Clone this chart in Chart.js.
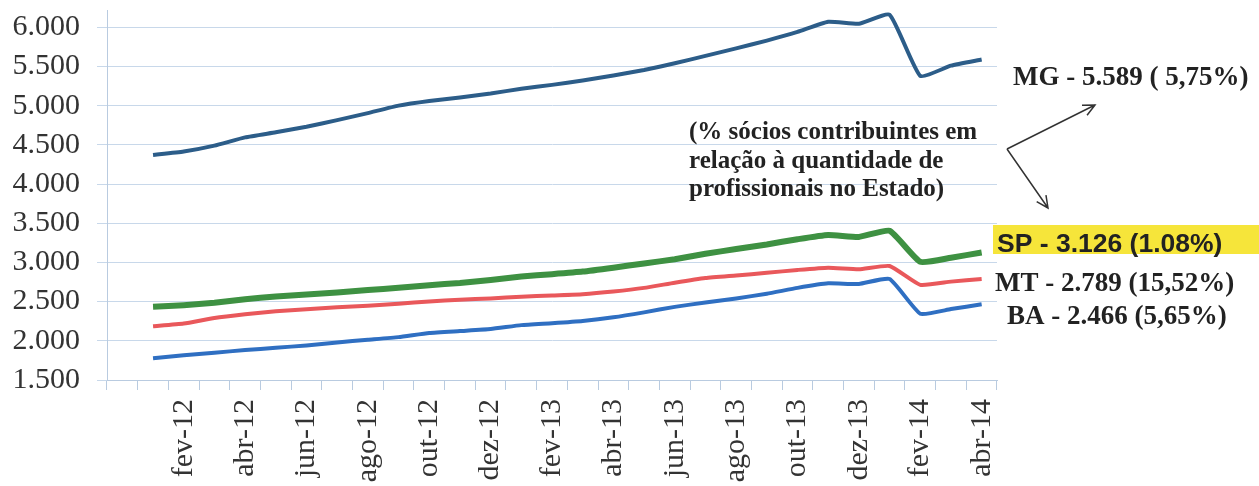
<!DOCTYPE html>
<html>
<head>
<meta charset="utf-8">
<script src="https://cdn.jsdelivr.net/npm/chart.js@4"></script>
<style>
  html, body { margin: 0; padding: 0; background: #fff; overflow: hidden; }
  canvas { display: block; }
</style>
</head>
<body>
<canvas id="chart" width="1259" height="486"></canvas>
<script>
// categories (first slot is an empty month before the series start)
const months = ["", "jan-12", "fev-12", "mar-12", "abr-12", "mai-12", "jun-12", "jul-12", "ago-12", "set-12",
  "out-12", "nov-12", "dez-12", "jan-13", "fev-13", "mar-13", "abr-13", "mai-13", "jun-13", "jul-13",
  "ago-13", "set-13", "out-13", "nov-13", "dez-13", "jan-14", "fev-14", "mar-14", "abr-14"];

const mg = [null, 4370, 4415, 4490, 4595, 4660, 4730, 4815, 4905, 5000, 5060, 5105, 5155, 5215, 5265,
  5320, 5385, 5455, 5540, 5635, 5730, 5830, 5940, 6070, 6045, 6160, 5380, 5510, 5589];
const sp = [null, 2435, 2455, 2485, 2530, 2565, 2590, 2615, 2648, 2676, 2710, 2737, 2775, 2820, 2850,
  2883, 2933, 2987, 3041, 3110, 3171, 3229, 3296, 3350, 3325, 3404, 3008, 3060, 3126];
const mt = [null, 2186, 2220, 2291, 2338, 2376, 2401, 2427, 2448, 2473, 2502, 2525, 2541, 2562, 2579,
  2595, 2629, 2675, 2741, 2800, 2833, 2867, 2904, 2933, 2913, 2954, 2713, 2755, 2789];
const ba = [null, 1777, 1815, 1848, 1882, 1911, 1941, 1979, 2013, 2047, 2100, 2125, 2150, 2200, 2225,
  2254, 2300, 2363, 2433, 2489, 2541, 2600, 2675, 2733, 2725, 2788, 2346, 2405, 2466];

const yTicks = [1500, 2000, 2500, 3000, 3500, 4000, 4500, 5000, 5500, 6000];

const noteLines = ["(% sócios contribuintes em", "relação à quantidade de", "profissionais no Estado)"];

function fmt(v) {
  return String(v).replace(/\B(?=(\d{3})+(?!\d))/g, ".");
}

// text and arrows on the right of the plot
const annotations = {
  id: "annotations",
  afterDraw(chart) {
    const ctx = chart.ctx;
    ctx.save();
    ctx.fillStyle = "#222";
    ctx.textAlign = "left";
    ctx.textBaseline = "alphabetic";

    ctx.font = "bold 27px 'Liberation Serif'";
    ctx.fillText("MG - 5.589 ( 5,75%)", 1013, 85);

    ctx.font = "bold 25px 'Liberation Serif'";
    noteLines.forEach((t, i) => ctx.fillText(t, 689, 139 + i * 28.5));

    // yellow highlight for SP
    ctx.fillStyle = "#f6e53a";
    ctx.fillRect(993, 225, 266, 29);
    ctx.fillStyle = "#222";
    ctx.font = "bold 26.5px 'Liberation Sans'";
    ctx.fillText("SP - 3.126 (1.08%)", 997, 252);

    ctx.font = "bold 27px 'Liberation Serif'";
    ctx.fillText("MT - 2.789 (15,52%)", 995, 291);
    ctx.fillText("BA - 2.466 (5,65%)", 1007, 324);

    // arrows
    ctx.strokeStyle = "#333";
    ctx.lineWidth = 1.5;
    function arrow(x0, y0, x1, y1) {
      ctx.beginPath();
      ctx.moveTo(x0, y0);
      ctx.lineTo(x1, y1);
      const a = Math.atan2(y1 - y0, x1 - x0);
      const h = 13;
      ctx.moveTo(x1 - h * Math.cos(a - 0.45), y1 - h * Math.sin(a - 0.45));
      ctx.lineTo(x1, y1);
      ctx.lineTo(x1 - h * Math.cos(a + 0.45), y1 - h * Math.sin(a + 0.45));
      ctx.stroke();
    }
    arrow(1007, 149, 1095, 105);
    arrow(1007, 149, 1048, 208);
    ctx.restore();
  }
};

function series(label, data, color, width) {
  return {
    label: label,
    data: data,
    borderColor: color,
    backgroundColor: color,
    borderWidth: width,
    pointRadius: 0,
    tension: 0.15,
    spanGaps: false
  };
}

new Chart(document.getElementById("chart"), {
  type: "line",
  data: {
    labels: months,
    datasets: [
      series("MG", mg, "#2c5d89", 4),
      series("SP", sp, "#3e9142", 6),
      series("MT", mt, "#e9585b", 4),
      series("BA", ba, "#2f6fc2", 4)
    ]
  },
  options: {
    responsive: false,
    animation: false,
    layout: { padding: { top: 10, right: 262, left: 0, bottom: 0 } },
    plugins: {
      legend: { display: false },
      tooltip: { enabled: false }
    },
    scales: {
      x: {
        offset: true,
        afterFit(scale) {
          scale.height = 106;
          scale.paddingLeft = 0;
          scale.paddingRight = 0;
        },
        grid: {
          offset: true,
          drawOnChartArea: false,
          drawTicks: true,
          tickLength: 10,
          color: "#b9cbe0"
        },
        border: { color: "#b9cbe0" },
        ticks: {
          autoSkip: false,
          maxRotation: 90,
          minRotation: 90,
          padding: 9,
          color: "#333",
          font: { family: "'Liberation Serif'", size: 30 },
          callback(value, index) {
            return index % 2 === 0 ? months[index] : "";
          }
        }
      },
      y: {
        min: 1500,
        max: 6220,
        afterFit(scale) {
          scale.width = 107;
          scale.paddingTop = 0;
          scale.paddingBottom = 0;
        },
        afterBuildTicks(scale) {
          scale.ticks = yTicks.map(v => ({ value: v }));
        },
        grid: {
          color: "#c8d8ea",
          tickLength: 10
        },
        border: { color: "#b9cbe0" },
        ticks: {
          autoSkip: false,
          padding: 17,
          color: "#333",
          font: { family: "'Liberation Serif'", size: 30 },
          callback(value) { return fmt(value); }
        }
      }
    }
  },
  plugins: [annotations]
});
</script>
</body>
</html>
